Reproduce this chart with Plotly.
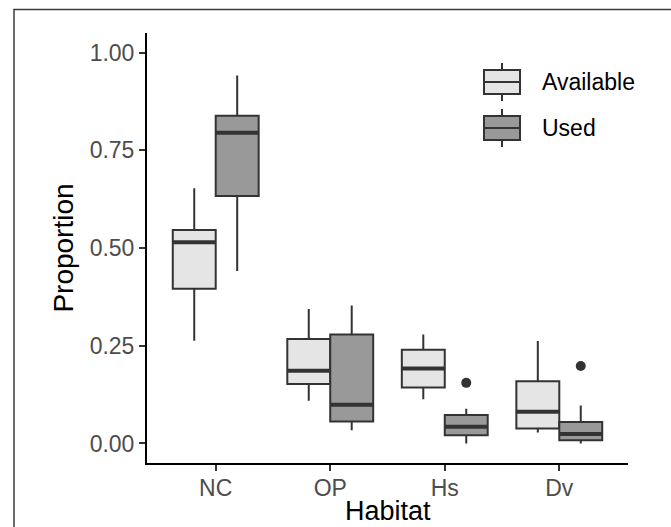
import numpy as np
import plotly.graph_objects as go

# ---------------- data ----------------
categories = ["NC", "OP", "Hs", "Dv"]

avail_lower = [0.263, 0.109, 0.113, 0.028]
avail_q1 = [0.396, 0.152, 0.143, 0.038]
avail_median = [0.515, 0.186, 0.192, 0.081]
avail_q3 = [0.546, 0.267, 0.240, 0.159]
avail_upper = [0.653, 0.344, 0.279, 0.262]

used_lower = [0.441, 0.034, 0.000, 0.000]
used_q1 = [0.633, 0.056, 0.021, 0.008]
used_median = [0.795, 0.099, 0.043, 0.024]
used_q3 = [0.838, 0.279, 0.073, 0.055]
used_upper = [0.941, 0.353, 0.089, 0.097]

used_outlier_cats = ["Hs", "Dv"]
used_outlier_vals = [0.155, 0.198]

y_ticks = [0.00, 0.25, 0.50, 0.75, 1.00]
y_tick_labels = ["0.00", "0.25", "0.50", "0.75", "1.00"]

series_names = ["Available", "Used"]

# ---------------- style ----------------
W, H = 671, 527
L, R, T, B = 147, 628, 33, 463
FILL_AVAIL = "#E5E5E5"
FILL_USED = "#999999"
LINE_COL = "#333333"
BOX_W = 0.375
FONT = "Liberation Sans, Arial, sans-serif"

pos = np.arange(1, len(categories) + 1)
cat_pos = dict(zip(categories, pos))

fig = go.Figure()

for name, fill, lo, q1, med, q3, up in [
    (series_names[0], FILL_AVAIL, avail_lower, avail_q1, avail_median, avail_q3, avail_upper),
    (series_names[1], FILL_USED, used_lower, used_q1, used_median, used_q3, used_upper),
]:
    fig.add_trace(go.Box(
        name=name, x=pos, q1=q1, median=med, q3=q3,
        lowerfence=lo, upperfence=up,
        fillcolor=fill, line=dict(color=LINE_COL, width=2),
        whiskerwidth=0, boxpoints=False, showlegend=False,
        hoverinfo="skip",
    ))

# thicker median lines (ggplot style)
for k, med in enumerate([avail_median, used_median]):
    xs, ys = [], []
    for p, m in zip(pos, med):
        x0 = p - BOX_W + k * BOX_W
        xs += [x0, x0 + BOX_W, None]
        ys += [m, m, None]
    fig.add_trace(go.Scatter(x=xs, y=ys, mode="lines",
                             line=dict(color=LINE_COL, width=4),
                             showlegend=False, hoverinfo="skip"))

# outliers of "Used"
fig.add_trace(go.Scatter(
    x=[cat_pos[c] + BOX_W / 2 for c in used_outlier_cats], y=used_outlier_vals,
    mode="markers", marker=dict(color=LINE_COL, size=10),
    showlegend=False, hoverinfo="skip"))


# ---------------- custom legend (ggplot-like keys) ----------------
def px_x(px):
    return (px - L) / (R - L)


def px_y(py):
    return (B - py) / (B - T)


shapes = []
annotations = []
for label, fill, cy in [(series_names[0], FILL_AVAIL, 82), (series_names[1], FILL_USED, 128)]:
    kx0, kx1 = 484, 520
    kc = (kx0 + kx1) / 2
    shapes.append(dict(type="line", xref="paper", yref="paper",
                       x0=px_x(kc), x1=px_x(kc), y0=px_y(cy - 19), y1=px_y(cy + 19),
                       line=dict(color=LINE_COL, width=2)))
    shapes.append(dict(type="rect", xref="paper", yref="paper",
                       x0=px_x(kx0), x1=px_x(kx1), y0=px_y(cy + 12), y1=px_y(cy - 12),
                       fillcolor=fill, line=dict(color=LINE_COL, width=2)))
    shapes.append(dict(type="line", xref="paper", yref="paper",
                       x0=px_x(kx0), x1=px_x(kx1), y0=px_y(cy), y1=px_y(cy),
                       line=dict(color=LINE_COL, width=2)))
    annotations.append(dict(text=label, xref="paper", yref="paper",
                            x=px_x(540), y=px_y(cy), xanchor="left", yanchor="middle",
                            showarrow=False, font=dict(family=FONT, size=23, color="black")))

# x-axis title
annotations.append(dict(text="Habitat", xref="paper", yref="paper",
                        x=0.5, y=px_y(494), xanchor="center", yanchor="top",
                        showarrow=False, font=dict(family=FONT, size=27, color="black")))

# outer frame (image border)
shapes.append(dict(type="rect", xref="paper", yref="paper",
                   x0=px_x(14), x1=px_x(720), y0=px_y(560), y1=px_y(9.5),
                   line=dict(color="#3a3a3a", width=1.5), fillcolor="rgba(0,0,0,0)",
                   layer="above"))

fig.update_layout(
    width=W, height=H,
    margin=dict(l=L, r=W - R, t=T, b=H - B),
    paper_bgcolor="white", plot_bgcolor="white",
    boxmode="group", boxgap=0.25, boxgroupgap=0,
    showlegend=False,
    shapes=shapes, annotations=annotations,
    font=dict(family=FONT),
)

fig.update_xaxes(
    range=[0.4, len(categories) + 0.6],
    tickmode="array", tickvals=pos, ticktext=categories,
    showline=True, linecolor="black", linewidth=2,
    ticks="outside", ticklen=6, tickwidth=2, tickcolor="#333333",
    ticklabelstandoff=-3,
    tickfont=dict(family=FONT, size=23, color="#4D4D4D"),
    showgrid=False, zeroline=False,
)
fig.update_yaxes(
    range=[-0.05, 1.05],
    tickmode="array", tickvals=y_ticks, ticktext=y_tick_labels,
    showline=True, linecolor="black", linewidth=2,
    ticks="outside", ticklen=6, tickwidth=2, tickcolor="#333333",
    tickfont=dict(family=FONT, size=23, color="#4D4D4D"),
    showgrid=False, zeroline=False,
    title=dict(text="Proportion", font=dict(family=FONT, size=28, color="black"), standoff=8),
)

fig.write_html("out.html", config={"displayModeBar": False},
               post_script="document.body.style.margin='0';")
